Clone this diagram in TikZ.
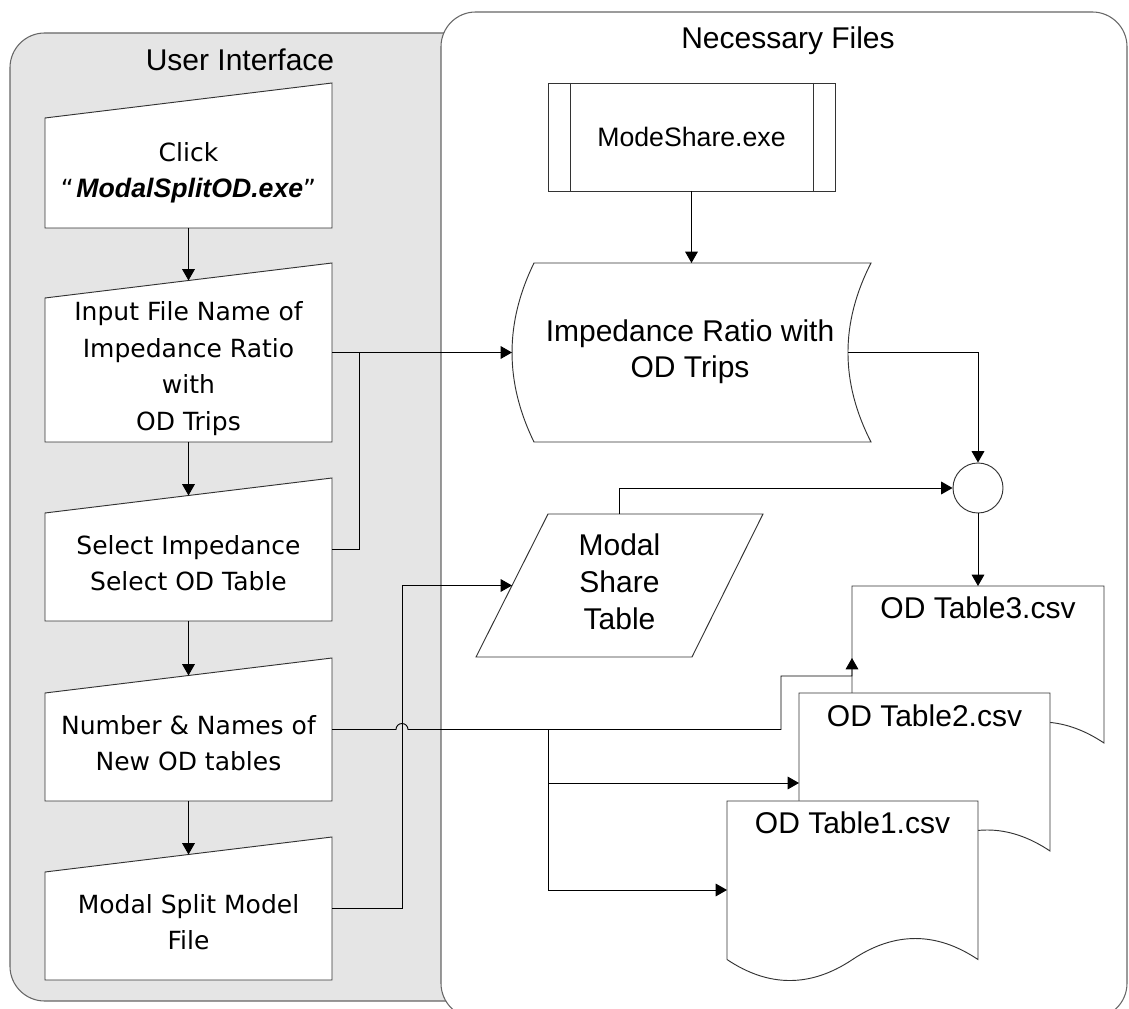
\documentclass[tikz,border=0pt]{standalone}
\usepackage{fontspec}
\setmainfont{Liberation Sans}
\newfontfamily\jpfont{DejaVu Sans}
\newfontfamily\arialf{Liberation Sans}
\usetikzlibrary{arrows.meta,calc}

\tikzset{
  panel/.style={draw=black!60, line width=0.8pt, rounded corners=26pt},
  shp/.style={draw=black!80, fill=white, line width=0.7pt},
  geo/.style={rectangle, inner sep=0pt, outer sep=0pt},
  uitext/.style={font=\jpfont\fontsize{18.75pt}{27.4pt}\selectfont, align=center,
    inner sep=0pt, execute at begin node=\strut, execute at end node=\strut},
  rtext/.style={font=\arialf\fontsize{22.5pt}{27pt}\selectfont, align=center,
    inner sep=0pt, execute at begin node=\strut, execute at end node=\strut},
  head/.style={font=\arialf\fontsize{22.5pt}{27pt}\selectfont, inner sep=0pt},
  link/.style={draw=black, line width=0.7pt},
  arr/.style={link, -{Triangle[length=8.5pt,width=9.5pt]}},
}

% manual-input outline: slanted top, right corner raised
\newcommand\manualoutline[1]{%
  \path[shp] (#1.south west) -- ($(#1.north west)+(0,35)$) -- (#1.north east)
    -- (#1.south east) -- cycle;}
% document outline with a wavy bottom edge
\newcommand\docoutline[2]{%
  \path[shp] (#1.south west) -- (#1.north west) -- (#1.north east) -- (#1.south east)
    .. controls ($(#1.south east)+(-#2/6,-28)$) and ($(#1.south east)+(-#2/3,-28)$) .. (#1.south)
    .. controls ($(#1.south)+(-#2/6,28)$) and ($(#1.south)+(-#2/3,28)$) .. (#1.south west);}

\begin{document}
\begin{tikzpicture}[x=0.75pt,y=-0.75pt]
\useasboundingbox (0,0) rectangle (1129,1009);

% swimlanes
\path[panel, fill=black!10] (10,33) rectangle (520,1001);
\path[panel, fill=white] (441,12) rectangle (1127,1018);
\node[head, anchor=base] (uihead) at (240,71) {User Interface};
\node[head, anchor=base] (nfhead) at (788,49) {Necessary Files};

% user interface steps
\node[geo, minimum width=215.25pt, minimum height=108.75pt] (click)  at (188.5,155.5) {};
\node[geo, minimum width=215.25pt, minimum height=134.25pt] (input)  at (188.5,352.5) {};
\node[geo, minimum width=215.25pt, minimum height=107.25pt] (select) at (188.5,549.5) {};
\node[geo, minimum width=215.25pt, minimum height=107.25pt] (number) at (188.5,729.5) {};
\node[geo, minimum width=215.25pt, minimum height=107.25pt] (msplit) at (188.5,908.5) {};
\manualoutline{click}
\manualoutline{input}
\manualoutline{select}
\manualoutline{number}
\manualoutline{msplit}
\node[uitext] (click-t) at ($(click)+(0,20)$)
  {Click\\“\kern2pt{\arialf\bfseries\itshape\fontsize{20pt}{27.4pt}\selectfont ModalSplitOD.exe}”};
\node[uitext] (input-t) at ($(input)+(0,19)$)
  {Input File Name of\\Impedance Ratio\\with\\OD Trips};
\node[uitext] (select-t) at ($(select)+(0,19)$) {Select Impedance\\Select OD Table};
\node[uitext] (number-t) at ($(number)+(0,19)$) {Number \& Names of\\New OD tables};
\node[uitext] (msplit-t) at ($(msplit)+(0,19)$) {Modal Split Model\\File};

% necessary files
\node[geo, minimum width=215.25pt, minimum height=81pt] (mode) at (691.5,137) {};
\path[shp] (mode.north west) rectangle (mode.south east);
\draw[shp] ($(mode.north west)+(22,0)$) -- ($(mode.south west)+(22,0)$)
           ($(mode.north east)+(-22,0)$) -- ($(mode.south east)+(-22,0)$);
\node[anchor=base, font=\arialf\fontsize{20pt}{24pt}\selectfont, inner sep=0pt] (mode-t)
  at (691.5,147) {ModeShare.exe};

\node[geo, minimum width=269.25pt, minimum height=134.25pt] (imp) at (691.5,352.5) {};
\path[shp] ($(imp.north west)+(22,0)$)
   .. controls ($(imp.north west)+(-7.3,60)$) and ($(imp.south west)+(-7.3,-60)$) .. ($(imp.south west)+(22,0)$)
   -- (imp.south east)
   .. controls ($(imp.south east)+(-30.7,-60)$) and ($(imp.north east)+(-30.7,60)$) .. (imp.north east)
   -- cycle;
\coordinate (impe) at ($(imp.east)+(-23,0)$);
\node[rtext] (imp-t) at (690,353.8) {Impedance Ratio with\\OD Trips};

\node[geo, minimum width=161.6pt, minimum height=107.25pt] (ms) at (619.75,585.5) {};
\path[shp] ($(ms.north west)+(36,0)$) -- ($(ms.north east)+(35.5,0)$)
   -- ($(ms.south east)+(-35.5,0)$) -- ($(ms.south west)+(-36,0)$) -- cycle;
\node[rtext, font=\arialf\fontsize{22.5pt}{27.75pt}\selectfont] (ms-t) at (619.5,587.6) {Modal\\Share\\Table};

\node[circle, shp, minimum size=37.5pt, inner sep=0pt] (join) at (978,488) {};

\node[geo, minimum width=189pt, minimum height=117.75pt] (t3) at (978,664.5) {};
\node[geo, minimum width=188.25pt, minimum height=118.5pt] (t2) at (924.5,772) {};
\node[geo, minimum width=188.25pt, minimum height=118.9pt] (t1) at (852.5,880.25) {};
\docoutline{t3}{252}
\node[head, anchor=base] (t3-t) at (978,618) {OD Table3.csv};
\docoutline{t2}{251}
\node[head, anchor=base] (t2-t) at (924.5,726) {OD Table2.csv};
\docoutline{t1}{251}
\node[head, anchor=base] (t1-t) at (852.5,833) {OD Table1.csv};
\coordinate (t3in) at ($(t3.north west)+(0,72)$);
\coordinate (t2in) at ($(t2.north west)+(0,90)$);
\coordinate (t1in) at ($(t1.north west)+(0,89)$);

% flow between the steps
\draw[arr] (click.south)  -- ($(input.north)+(0,17.5)$);
\draw[arr] (input.south)  -- ($(select.north)+(0,17.5)$);
\draw[arr] (select.south) -- ($(number.north)+(0,17.5)$);
\draw[arr] (number.south) -- ($(msplit.north)+(0,17.5)$);

\draw[arr] (input.east) -- (imp.west);
\draw[link] (select.east) -| ($(input.east)+(27,0)$);
\draw[arr] (msplit.east) -| ($(ms.west)+(-110,0)$) -- (ms.west);
\draw[arr] (number.east) -- ++(64,0) arc[start angle=180, end angle=0, radius=4.5pt]
   -- ++(373,0) |- ($(t3in)+(0,18)$) -- (t3in);
\coordinate (split) at ($(number.east)+(216,0)$);
\draw[arr] (split) |- (t2in);
\draw[arr] (split) |- (t1in);

\draw[arr] (mode.south) -- (imp.north);
\draw[arr] (impe) -| (join.north);
\draw[arr] (ms.north) |- (join.west);
\draw[arr] (join.south) -- (t3.north);
\end{tikzpicture}
\end{document}
